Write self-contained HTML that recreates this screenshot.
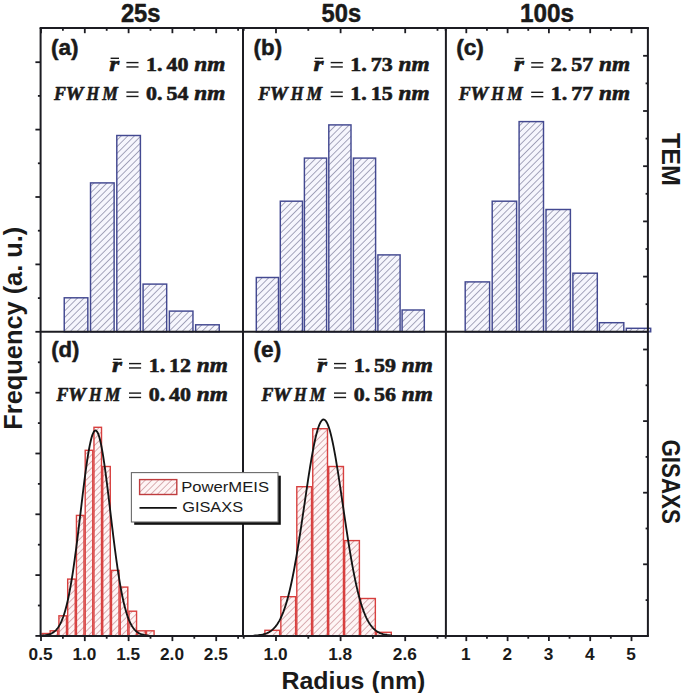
<!DOCTYPE html>
<html><head><meta charset="utf-8"><style>
html,body{margin:0;padding:0;background:#fff;}
svg{display:block;}
</style></head><body>
<svg width="685" height="693" viewBox="0 0 685 693">
<rect width="685" height="693" fill="#fff"/>
<defs>
<pattern id="hb" patternUnits="userSpaceOnUse" width="4.65" height="4.65" patternTransform="rotate(45)">
<rect width="4.65" height="4.65" fill="#f6f6fd"/>
<line x1="0" y1="0" x2="0" y2="4.65" stroke="#646488" stroke-width="1.1"/>
</pattern>
<pattern id="hr" patternUnits="userSpaceOnUse" width="4.65" height="4.65" patternTransform="rotate(45)">
<rect width="4.65" height="4.65" fill="#fef5f5"/>
<line x1="0" y1="0" x2="0" y2="4.65" stroke="#c07880" stroke-width="1.15"/>
</pattern>
</defs>
<rect x="64.24" y="297.80" width="23.60" height="34.00" fill="url(#hb)" stroke="#434991" stroke-width="1.45"/>
<rect x="90.52" y="182.90" width="23.60" height="148.90" fill="url(#hb)" stroke="#434991" stroke-width="1.45"/>
<rect x="116.80" y="135.50" width="23.60" height="196.30" fill="url(#hb)" stroke="#434991" stroke-width="1.45"/>
<rect x="143.08" y="284.10" width="23.60" height="47.70" fill="url(#hb)" stroke="#434991" stroke-width="1.45"/>
<rect x="169.36" y="311.10" width="23.60" height="20.70" fill="url(#hb)" stroke="#434991" stroke-width="1.45"/>
<rect x="195.64" y="324.80" width="23.60" height="7.00" fill="url(#hb)" stroke="#434991" stroke-width="1.45"/>
<rect x="256.30" y="277.50" width="22.20" height="54.30" fill="url(#hb)" stroke="#434991" stroke-width="1.45"/>
<rect x="280.30" y="201.20" width="22.20" height="130.60" fill="url(#hb)" stroke="#434991" stroke-width="1.45"/>
<rect x="304.40" y="158.10" width="22.20" height="173.70" fill="url(#hb)" stroke="#434991" stroke-width="1.45"/>
<rect x="328.80" y="124.90" width="22.20" height="206.90" fill="url(#hb)" stroke="#434991" stroke-width="1.45"/>
<rect x="353.40" y="158.10" width="22.20" height="173.70" fill="url(#hb)" stroke="#434991" stroke-width="1.45"/>
<rect x="377.90" y="254.90" width="22.20" height="76.90" fill="url(#hb)" stroke="#434991" stroke-width="1.45"/>
<rect x="402.10" y="310.00" width="22.20" height="21.80" fill="url(#hb)" stroke="#434991" stroke-width="1.45"/>
<rect x="465.20" y="281.90" width="24.40" height="49.90" fill="url(#hb)" stroke="#434991" stroke-width="1.45"/>
<rect x="492.20" y="201.20" width="24.40" height="130.60" fill="url(#hb)" stroke="#434991" stroke-width="1.45"/>
<rect x="519.10" y="121.60" width="24.40" height="210.20" fill="url(#hb)" stroke="#434991" stroke-width="1.45"/>
<rect x="546.00" y="209.50" width="24.40" height="122.30" fill="url(#hb)" stroke="#434991" stroke-width="1.45"/>
<rect x="572.90" y="273.20" width="24.40" height="58.60" fill="url(#hb)" stroke="#434991" stroke-width="1.45"/>
<rect x="599.40" y="322.70" width="24.40" height="9.10" fill="url(#hb)" stroke="#434991" stroke-width="1.45"/>
<rect x="626.30" y="328.30" width="24.40" height="3.50" fill="url(#hb)" stroke="#434991" stroke-width="1.45"/>
<rect x="42.00" y="633.50" width="6.96" height="2.40" fill="url(#hr)" stroke="#d8403f" stroke-width="1.4"/>
<rect x="50.16" y="630.80" width="7.56" height="5.10" fill="url(#hr)" stroke="#d8403f" stroke-width="1.4"/>
<rect x="58.92" y="615.80" width="7.56" height="20.10" fill="url(#hr)" stroke="#d8403f" stroke-width="1.4"/>
<rect x="67.68" y="579.10" width="7.56" height="56.80" fill="url(#hr)" stroke="#d8403f" stroke-width="1.4"/>
<rect x="76.44" y="515.40" width="7.56" height="120.50" fill="url(#hr)" stroke="#d8403f" stroke-width="1.4"/>
<rect x="85.20" y="450.30" width="7.56" height="185.60" fill="url(#hr)" stroke="#d8403f" stroke-width="1.4"/>
<rect x="93.96" y="427.30" width="7.56" height="208.60" fill="url(#hr)" stroke="#d8403f" stroke-width="1.4"/>
<rect x="102.72" y="466.50" width="7.56" height="169.40" fill="url(#hr)" stroke="#d8403f" stroke-width="1.4"/>
<rect x="111.48" y="570.40" width="7.56" height="65.50" fill="url(#hr)" stroke="#d8403f" stroke-width="1.4"/>
<rect x="120.24" y="587.10" width="7.56" height="48.80" fill="url(#hr)" stroke="#d8403f" stroke-width="1.4"/>
<rect x="129.00" y="611.20" width="7.56" height="24.70" fill="url(#hr)" stroke="#d8403f" stroke-width="1.4"/>
<rect x="137.76" y="630.80" width="7.56" height="5.10" fill="url(#hr)" stroke="#d8403f" stroke-width="1.4"/>
<rect x="146.52" y="630.80" width="7.56" height="5.10" fill="url(#hr)" stroke="#d8403f" stroke-width="1.4"/>
<rect x="264.90" y="630.30" width="14.75" height="5.60" fill="url(#hr)" stroke="#d8403f" stroke-width="1.4"/>
<rect x="280.85" y="596.70" width="14.75" height="39.20" fill="url(#hr)" stroke="#d8403f" stroke-width="1.4"/>
<rect x="296.80" y="486.70" width="14.75" height="149.20" fill="url(#hr)" stroke="#d8403f" stroke-width="1.4"/>
<rect x="312.75" y="428.70" width="14.75" height="207.20" fill="url(#hr)" stroke="#d8403f" stroke-width="1.4"/>
<rect x="328.70" y="466.50" width="14.75" height="169.40" fill="url(#hr)" stroke="#d8403f" stroke-width="1.4"/>
<rect x="344.65" y="540.60" width="14.75" height="95.30" fill="url(#hr)" stroke="#d8403f" stroke-width="1.4"/>
<rect x="360.60" y="598.50" width="14.75" height="37.40" fill="url(#hr)" stroke="#d8403f" stroke-width="1.4"/>
<rect x="376.55" y="632.30" width="14.75" height="3.60" fill="url(#hr)" stroke="#d8403f" stroke-width="1.4"/>
<polyline points="41.50,635.64 42.03,635.60 42.57,635.56 43.10,635.51 43.64,635.46 44.17,635.40 44.71,635.33 45.24,635.26 45.78,635.17 46.31,635.08 46.85,634.97 47.38,634.86 47.92,634.73 48.45,634.59 48.99,634.43 49.52,634.25 50.06,634.06 50.59,633.84 51.13,633.60 51.66,633.34 52.20,633.06 52.73,632.74 53.27,632.40 53.80,632.02 54.34,631.60 54.88,631.15 55.41,630.66 55.95,630.13 56.48,629.54 57.02,628.91 57.55,628.23 58.09,627.49 58.62,626.69 59.16,625.83 59.69,624.90 60.23,623.90 60.76,622.83 61.30,621.69 61.83,620.46 62.36,619.14 62.90,617.74 63.44,616.25 63.97,614.67 64.50,612.98 65.04,611.19 65.58,609.30 66.11,607.30 66.64,605.20 67.18,602.98 67.72,600.64 68.25,598.19 68.78,595.62 69.32,592.93 69.86,590.13 70.39,587.20 70.92,584.15 71.46,580.99 72.00,577.70 72.53,574.31 73.06,570.79 73.60,567.17 74.13,563.44 74.67,559.61 75.20,555.68 75.74,551.66 76.28,547.55 76.81,543.37 77.34,539.11 77.88,534.78 78.41,530.41 78.95,525.98 79.48,521.52 80.02,517.04 80.56,512.54 81.09,508.04 81.62,503.54 82.16,499.07 82.69,494.63 83.23,490.24 83.77,485.90 84.30,481.64 84.84,477.47 85.37,473.39 85.91,469.43 86.44,465.60 86.97,461.90 87.51,458.35 88.05,454.97 88.58,451.77 89.12,448.75 89.65,445.93 90.19,443.33 90.72,440.94 91.25,438.78 91.79,436.85 92.33,435.17 92.86,433.74 93.40,432.57 93.93,431.65 94.47,431.00 95.00,430.62 95.53,430.50 96.07,430.65 96.60,431.07 97.14,431.76 97.67,432.71 98.21,433.91 98.75,435.38 99.28,437.09 99.81,439.05 100.35,441.24 100.88,443.66 101.42,446.29 101.95,449.14 102.49,452.18 103.03,455.41 103.56,458.81 104.09,462.37 104.63,466.09 105.16,469.94 105.70,473.92 106.23,478.01 106.77,482.20 107.31,486.47 107.84,490.81 108.38,495.21 108.91,499.65 109.44,504.13 109.98,508.63 110.52,513.13 111.05,517.63 111.58,522.11 112.12,526.56 112.66,530.98 113.19,535.35 113.72,539.67 114.26,543.92 114.80,548.09 115.33,552.19 115.86,556.20 116.40,560.12 116.94,563.94 117.47,567.65 118.00,571.26 118.54,574.76 119.08,578.14 119.61,581.41 120.14,584.56 120.68,587.59 121.22,590.50 121.75,593.29 122.28,595.96 122.82,598.52 123.36,600.95 123.89,603.27 124.42,605.48 124.96,607.57 125.50,609.56 126.03,611.43 126.56,613.21 127.10,614.88 127.64,616.45 128.17,617.93 128.70,619.32 129.24,620.62 129.78,621.84 130.31,622.98 130.84,624.04 131.38,625.03 131.92,625.95 132.45,626.80 132.99,627.59 133.52,628.32 134.06,629.00 134.59,629.62 135.12,630.20 135.66,630.73 136.19,631.21 136.73,631.66 137.26,632.07 137.80,632.44 138.33,632.78 138.87,633.10 139.41,633.38 139.94,633.64 140.47,633.87 141.01,634.08 141.55,634.28 142.08,634.45 142.62,634.61 143.15,634.75 143.69,634.87 144.22,634.99 144.75,635.09 145.29,635.18 145.82,635.27 146.36,635.34 146.89,635.41 147.43,635.46 147.97,635.52 148.50,635.56" fill="none" stroke="#141414" stroke-width="1.85"/>
<polyline points="253.50,635.62 254.19,635.59 254.88,635.54 255.58,635.49 256.27,635.44 256.96,635.38 257.65,635.31 258.35,635.23 259.04,635.14 259.73,635.04 260.43,634.94 261.12,634.81 261.81,634.68 262.50,634.53 263.19,634.37 263.89,634.18 264.58,633.98 265.27,633.76 265.96,633.51 266.66,633.24 267.35,632.94 268.04,632.61 268.74,632.25 269.43,631.86 270.12,631.43 270.81,630.96 271.50,630.45 272.20,629.89 272.89,629.29 273.58,628.63 274.27,627.92 274.97,627.15 275.66,626.32 276.35,625.42 277.05,624.46 277.74,623.42 278.43,622.30 279.12,621.11 279.81,619.83 280.51,618.47 281.20,617.01 281.89,615.45 282.58,613.80 283.28,612.05 283.97,610.19 284.66,608.22 285.36,606.14 286.05,603.94 286.74,601.63 287.43,599.19 288.12,596.64 288.82,593.96 289.51,591.16 290.20,588.23 290.89,585.18 291.59,582.00 292.28,578.70 292.97,575.27 293.67,571.72 294.36,568.05 295.05,564.27 295.74,560.37 296.44,556.36 297.13,552.25 297.82,548.04 298.51,543.74 299.20,539.36 299.90,534.90 300.59,530.37 301.28,525.78 301.98,521.14 302.67,516.46 303.36,511.75 304.05,507.02 304.75,502.29 305.44,497.56 306.13,492.85 306.82,488.18 307.51,483.55 308.21,478.97 308.90,474.48 309.59,470.06 310.28,465.75 310.98,461.56 311.67,457.49 312.36,453.56 313.06,449.80 313.75,446.20 314.44,442.78 315.13,439.55 315.82,436.54 316.52,433.73 317.21,431.16 317.90,428.82 318.60,426.73 319.29,424.89 319.98,423.31 320.67,422.00 321.37,420.96 322.06,420.20 322.75,419.71 323.44,419.51 324.13,419.58 324.83,419.94 325.52,420.58 326.21,421.49 326.90,422.68 327.60,424.14 328.29,425.86 328.98,427.84 329.68,430.07 330.37,432.53 331.06,435.23 331.75,438.15 332.44,441.29 333.14,444.62 333.83,448.14 334.52,451.83 335.22,455.69 335.91,459.69 336.60,463.83 337.29,468.09 337.99,472.46 338.68,476.92 339.37,481.46 340.06,486.06 340.75,490.72 341.45,495.42 342.14,500.14 342.83,504.87 343.52,509.60 344.22,514.32 344.91,519.01 345.60,523.67 346.30,528.29 346.99,532.85 347.68,537.34 348.37,541.76 349.06,546.10 349.76,550.35 350.45,554.50 351.14,558.56 351.83,562.51 352.53,566.34 353.22,570.06 353.91,573.67 354.61,577.15 355.30,580.51 355.99,583.75 356.68,586.86 357.38,589.84 358.07,592.70 358.76,595.44 359.45,598.05 360.14,600.54 360.84,602.90 361.53,605.15 362.22,607.29 362.92,609.31 363.61,611.22 364.30,613.02 364.99,614.72 365.69,616.31 366.38,617.81 367.07,619.22 367.76,620.54 368.45,621.77 369.15,622.92 369.84,623.99 370.53,624.99 371.23,625.92 371.92,626.78 372.61,627.58 373.30,628.31 374.00,628.99 374.69,629.62 375.38,630.20 376.07,630.73 376.76,631.22 377.46,631.67 378.15,632.08 378.84,632.45 379.53,632.79 380.23,633.11 380.92,633.39 381.61,633.65 382.31,633.88 383.00,634.09 383.69,634.28 384.38,634.46 385.07,634.61 385.77,634.76 386.46,634.88 387.15,635.00 387.85,635.10 388.54,635.19 389.23,635.27 389.92,635.35 390.62,635.41 391.31,635.47 392.00,635.52" fill="none" stroke="#141414" stroke-width="1.85"/>
<line x1="40.60" y1="28.00" x2="40.60" y2="635.90" stroke="#1c1c22" stroke-width="2.0"/>
<line x1="647.90" y1="28.00" x2="647.90" y2="635.90" stroke="#1c1c22" stroke-width="2.0"/>
<line x1="243.00" y1="28.00" x2="243.00" y2="635.90" stroke="#1c1c22" stroke-width="2.0"/>
<line x1="445.90" y1="28.00" x2="445.90" y2="635.90" stroke="#1c1c22" stroke-width="2.0"/>
<line x1="39.60" y1="28.00" x2="648.90" y2="28.00" stroke="#1c1c22" stroke-width="2.0"/>
<line x1="40.60" y1="331.80" x2="647.90" y2="331.80" stroke="#1c1c22" stroke-width="2.0"/>
<line x1="39.60" y1="635.90" x2="648.90" y2="635.90" stroke="#1c1c22" stroke-width="2.0"/>
<line x1="35.40" y1="331.80" x2="40.60" y2="331.80" stroke="#1c1c22" stroke-width="1.8"/>
<line x1="37.90" y1="298.10" x2="40.60" y2="298.10" stroke="#1c1c22" stroke-width="1.8"/>
<line x1="35.40" y1="264.40" x2="40.60" y2="264.40" stroke="#1c1c22" stroke-width="1.8"/>
<line x1="37.90" y1="230.70" x2="40.60" y2="230.70" stroke="#1c1c22" stroke-width="1.8"/>
<line x1="35.40" y1="197.00" x2="40.60" y2="197.00" stroke="#1c1c22" stroke-width="1.8"/>
<line x1="37.90" y1="163.30" x2="40.60" y2="163.30" stroke="#1c1c22" stroke-width="1.8"/>
<line x1="35.40" y1="129.60" x2="40.60" y2="129.60" stroke="#1c1c22" stroke-width="1.8"/>
<line x1="37.90" y1="95.90" x2="40.60" y2="95.90" stroke="#1c1c22" stroke-width="1.8"/>
<line x1="35.40" y1="62.20" x2="40.60" y2="62.20" stroke="#1c1c22" stroke-width="1.8"/>
<line x1="35.40" y1="635.90" x2="40.60" y2="635.90" stroke="#1c1c22" stroke-width="1.8"/>
<line x1="37.90" y1="605.50" x2="40.60" y2="605.50" stroke="#1c1c22" stroke-width="1.8"/>
<line x1="35.40" y1="575.10" x2="40.60" y2="575.10" stroke="#1c1c22" stroke-width="1.8"/>
<line x1="37.90" y1="544.70" x2="40.60" y2="544.70" stroke="#1c1c22" stroke-width="1.8"/>
<line x1="35.40" y1="514.30" x2="40.60" y2="514.30" stroke="#1c1c22" stroke-width="1.8"/>
<line x1="37.90" y1="483.90" x2="40.60" y2="483.90" stroke="#1c1c22" stroke-width="1.8"/>
<line x1="35.40" y1="453.50" x2="40.60" y2="453.50" stroke="#1c1c22" stroke-width="1.8"/>
<line x1="37.90" y1="423.10" x2="40.60" y2="423.10" stroke="#1c1c22" stroke-width="1.8"/>
<line x1="35.40" y1="392.70" x2="40.60" y2="392.70" stroke="#1c1c22" stroke-width="1.8"/>
<line x1="37.90" y1="362.30" x2="40.60" y2="362.30" stroke="#1c1c22" stroke-width="1.8"/>
<line x1="645.60" y1="304.20" x2="647.90" y2="304.20" stroke="#1c1c22" stroke-width="1.8"/>
<line x1="643.10" y1="276.60" x2="647.90" y2="276.60" stroke="#1c1c22" stroke-width="1.8"/>
<line x1="645.60" y1="249.00" x2="647.90" y2="249.00" stroke="#1c1c22" stroke-width="1.8"/>
<line x1="643.10" y1="221.40" x2="647.90" y2="221.40" stroke="#1c1c22" stroke-width="1.8"/>
<line x1="645.60" y1="193.80" x2="647.90" y2="193.80" stroke="#1c1c22" stroke-width="1.8"/>
<line x1="643.10" y1="166.20" x2="647.90" y2="166.20" stroke="#1c1c22" stroke-width="1.8"/>
<line x1="645.60" y1="138.60" x2="647.90" y2="138.60" stroke="#1c1c22" stroke-width="1.8"/>
<line x1="643.10" y1="111.00" x2="647.90" y2="111.00" stroke="#1c1c22" stroke-width="1.8"/>
<line x1="645.60" y1="83.40" x2="647.90" y2="83.40" stroke="#1c1c22" stroke-width="1.8"/>
<line x1="643.10" y1="55.80" x2="647.90" y2="55.80" stroke="#1c1c22" stroke-width="1.8"/>
<line x1="645.60" y1="600.10" x2="647.90" y2="600.10" stroke="#1c1c22" stroke-width="1.8"/>
<line x1="643.10" y1="564.30" x2="647.90" y2="564.30" stroke="#1c1c22" stroke-width="1.8"/>
<line x1="645.60" y1="528.50" x2="647.90" y2="528.50" stroke="#1c1c22" stroke-width="1.8"/>
<line x1="643.10" y1="492.70" x2="647.90" y2="492.70" stroke="#1c1c22" stroke-width="1.8"/>
<line x1="645.60" y1="456.90" x2="647.90" y2="456.90" stroke="#1c1c22" stroke-width="1.8"/>
<line x1="643.10" y1="421.10" x2="647.90" y2="421.10" stroke="#1c1c22" stroke-width="1.8"/>
<line x1="645.60" y1="385.30" x2="647.90" y2="385.30" stroke="#1c1c22" stroke-width="1.8"/>
<line x1="643.10" y1="349.50" x2="647.90" y2="349.50" stroke="#1c1c22" stroke-width="1.8"/>
<line x1="41.00" y1="28.00" x2="41.00" y2="33.20" stroke="#1c1c22" stroke-width="1.8"/>
<line x1="41.00" y1="635.90" x2="41.00" y2="641.10" stroke="#1c1c22" stroke-width="1.8"/>
<line x1="84.80" y1="28.00" x2="84.80" y2="33.20" stroke="#1c1c22" stroke-width="1.8"/>
<line x1="84.80" y1="635.90" x2="84.80" y2="641.10" stroke="#1c1c22" stroke-width="1.8"/>
<line x1="128.60" y1="28.00" x2="128.60" y2="33.20" stroke="#1c1c22" stroke-width="1.8"/>
<line x1="128.60" y1="635.90" x2="128.60" y2="641.10" stroke="#1c1c22" stroke-width="1.8"/>
<line x1="172.40" y1="28.00" x2="172.40" y2="33.20" stroke="#1c1c22" stroke-width="1.8"/>
<line x1="172.40" y1="635.90" x2="172.40" y2="641.10" stroke="#1c1c22" stroke-width="1.8"/>
<line x1="216.20" y1="28.00" x2="216.20" y2="33.20" stroke="#1c1c22" stroke-width="1.8"/>
<line x1="216.20" y1="635.90" x2="216.20" y2="641.10" stroke="#1c1c22" stroke-width="1.8"/>
<line x1="62.90" y1="28.00" x2="62.90" y2="30.80" stroke="#1c1c22" stroke-width="1.8"/>
<line x1="62.90" y1="635.90" x2="62.90" y2="638.70" stroke="#1c1c22" stroke-width="1.8"/>
<line x1="106.70" y1="28.00" x2="106.70" y2="30.80" stroke="#1c1c22" stroke-width="1.8"/>
<line x1="106.70" y1="635.90" x2="106.70" y2="638.70" stroke="#1c1c22" stroke-width="1.8"/>
<line x1="150.50" y1="28.00" x2="150.50" y2="30.80" stroke="#1c1c22" stroke-width="1.8"/>
<line x1="150.50" y1="635.90" x2="150.50" y2="638.70" stroke="#1c1c22" stroke-width="1.8"/>
<line x1="194.30" y1="28.00" x2="194.30" y2="30.80" stroke="#1c1c22" stroke-width="1.8"/>
<line x1="194.30" y1="635.90" x2="194.30" y2="638.70" stroke="#1c1c22" stroke-width="1.8"/>
<line x1="238.10" y1="28.00" x2="238.10" y2="30.80" stroke="#1c1c22" stroke-width="1.8"/>
<line x1="238.10" y1="635.90" x2="238.10" y2="638.70" stroke="#1c1c22" stroke-width="1.8"/>
<line x1="276.00" y1="28.00" x2="276.00" y2="33.20" stroke="#1c1c22" stroke-width="1.8"/>
<line x1="276.00" y1="635.90" x2="276.00" y2="641.10" stroke="#1c1c22" stroke-width="1.8"/>
<line x1="340.60" y1="28.00" x2="340.60" y2="33.20" stroke="#1c1c22" stroke-width="1.8"/>
<line x1="340.60" y1="635.90" x2="340.60" y2="641.10" stroke="#1c1c22" stroke-width="1.8"/>
<line x1="405.20" y1="28.00" x2="405.20" y2="33.20" stroke="#1c1c22" stroke-width="1.8"/>
<line x1="405.20" y1="635.90" x2="405.20" y2="641.10" stroke="#1c1c22" stroke-width="1.8"/>
<line x1="243.70" y1="28.00" x2="243.70" y2="30.80" stroke="#1c1c22" stroke-width="1.8"/>
<line x1="243.70" y1="635.90" x2="243.70" y2="638.70" stroke="#1c1c22" stroke-width="1.8"/>
<line x1="308.30" y1="28.00" x2="308.30" y2="30.80" stroke="#1c1c22" stroke-width="1.8"/>
<line x1="308.30" y1="635.90" x2="308.30" y2="638.70" stroke="#1c1c22" stroke-width="1.8"/>
<line x1="372.90" y1="28.00" x2="372.90" y2="30.80" stroke="#1c1c22" stroke-width="1.8"/>
<line x1="372.90" y1="635.90" x2="372.90" y2="638.70" stroke="#1c1c22" stroke-width="1.8"/>
<line x1="437.50" y1="28.00" x2="437.50" y2="30.80" stroke="#1c1c22" stroke-width="1.8"/>
<line x1="437.50" y1="635.90" x2="437.50" y2="638.70" stroke="#1c1c22" stroke-width="1.8"/>
<line x1="466.30" y1="28.00" x2="466.30" y2="33.20" stroke="#1c1c22" stroke-width="1.8"/>
<line x1="466.30" y1="635.90" x2="466.30" y2="641.10" stroke="#1c1c22" stroke-width="1.8"/>
<line x1="507.60" y1="28.00" x2="507.60" y2="33.20" stroke="#1c1c22" stroke-width="1.8"/>
<line x1="507.60" y1="635.90" x2="507.60" y2="641.10" stroke="#1c1c22" stroke-width="1.8"/>
<line x1="548.90" y1="28.00" x2="548.90" y2="33.20" stroke="#1c1c22" stroke-width="1.8"/>
<line x1="548.90" y1="635.90" x2="548.90" y2="641.10" stroke="#1c1c22" stroke-width="1.8"/>
<line x1="590.20" y1="28.00" x2="590.20" y2="33.20" stroke="#1c1c22" stroke-width="1.8"/>
<line x1="590.20" y1="635.90" x2="590.20" y2="641.10" stroke="#1c1c22" stroke-width="1.8"/>
<line x1="631.50" y1="28.00" x2="631.50" y2="33.20" stroke="#1c1c22" stroke-width="1.8"/>
<line x1="631.50" y1="635.90" x2="631.50" y2="641.10" stroke="#1c1c22" stroke-width="1.8"/>
<line x1="445.65" y1="28.00" x2="445.65" y2="30.80" stroke="#1c1c22" stroke-width="1.8"/>
<line x1="445.65" y1="635.90" x2="445.65" y2="638.70" stroke="#1c1c22" stroke-width="1.8"/>
<line x1="486.95" y1="28.00" x2="486.95" y2="30.80" stroke="#1c1c22" stroke-width="1.8"/>
<line x1="486.95" y1="635.90" x2="486.95" y2="638.70" stroke="#1c1c22" stroke-width="1.8"/>
<line x1="528.25" y1="28.00" x2="528.25" y2="30.80" stroke="#1c1c22" stroke-width="1.8"/>
<line x1="528.25" y1="635.90" x2="528.25" y2="638.70" stroke="#1c1c22" stroke-width="1.8"/>
<line x1="569.55" y1="28.00" x2="569.55" y2="30.80" stroke="#1c1c22" stroke-width="1.8"/>
<line x1="569.55" y1="635.90" x2="569.55" y2="638.70" stroke="#1c1c22" stroke-width="1.8"/>
<line x1="610.85" y1="28.00" x2="610.85" y2="30.80" stroke="#1c1c22" stroke-width="1.8"/>
<line x1="610.85" y1="635.90" x2="610.85" y2="638.70" stroke="#1c1c22" stroke-width="1.8"/>
<rect x="134.2" y="475.7" width="146.6" height="49.1" fill="#111"/>
<rect x="131.4" y="472.6" width="146.6" height="49.4" fill="#fff" stroke="#6a6a6a" stroke-width="1.1"/>
<rect x="139.6" y="479.6" width="37.2" height="14.9" fill="url(#hr)" stroke="#bf3c3e" stroke-width="1.4"/>
<line x1="139.50" y1="507.90" x2="176.80" y2="507.90" stroke="#111" stroke-width="1.6"/>
<text transform="translate(181.24,492.20) scale(1.0798,1)" font-family="Liberation Sans" font-size="15.407" font-weight="normal" font-style="normal" fill="#1a1a1a" style="font-kerning:none">PowerMEIS</text>
<text transform="translate(182.18,512.20) scale(1.1045,1)" font-family="Liberation Sans" font-size="14.826" font-weight="normal" font-style="normal" fill="#1a1a1a" style="font-kerning:none">GISAXS</text>
<text transform="translate(120.88,21.90) scale(0.9155,1)" font-family="Liberation Sans" font-size="25.922" font-weight="bold" font-style="normal" fill="#1a1a1a" style="font-kerning:none" stroke="#1a1a1a" stroke-width="0.5" stroke-linejoin="round">25s</text>
<text transform="translate(321.57,21.90) scale(0.8999,1)" font-family="Liberation Sans" font-size="26.309" font-weight="bold" font-style="normal" fill="#1a1a1a" style="font-kerning:none" stroke="#1a1a1a" stroke-width="0.5" stroke-linejoin="round">50s</text>
<text transform="translate(520.07,21.70) scale(0.9334,1)" font-family="Liberation Sans" font-size="26.018" font-weight="bold" font-style="normal" fill="#1a1a1a" style="font-kerning:none" stroke="#1a1a1a" stroke-width="0.5" stroke-linejoin="round">100s</text>
<text transform="translate(50.97,54.60) scale(0.9997,1)" font-family="Liberation Sans" font-size="22.633" font-weight="bold" font-style="normal" fill="#1a1a1a" style="font-kerning:none" stroke="#1a1a1a" stroke-width="0.5" stroke-linejoin="round">(a)</text>
<text transform="translate(253.59,54.60) scale(0.9871,1)" font-family="Liberation Sans" font-size="22.633" font-weight="bold" font-style="normal" fill="#1a1a1a" style="font-kerning:none" stroke="#1a1a1a" stroke-width="0.5" stroke-linejoin="round">(b)</text>
<text transform="translate(456.17,54.60) scale(1.0037,1)" font-family="Liberation Sans" font-size="22.633" font-weight="bold" font-style="normal" fill="#1a1a1a" style="font-kerning:none" stroke="#1a1a1a" stroke-width="0.5" stroke-linejoin="round">(c)</text>
<text transform="translate(51.20,356.60) scale(0.9796,1)" font-family="Liberation Sans" font-size="22.633" font-weight="bold" font-style="normal" fill="#1a1a1a" style="font-kerning:none" stroke="#1a1a1a" stroke-width="0.5" stroke-linejoin="round">(d)</text>
<text transform="translate(253.57,356.60) scale(0.9997,1)" font-family="Liberation Sans" font-size="22.633" font-weight="bold" font-style="normal" fill="#1a1a1a" style="font-kerning:none" stroke="#1a1a1a" stroke-width="0.5" stroke-linejoin="round">(e)</text>
<text transform="translate(109.28,70.60) scale(1.2277,1)" font-family="Liberation Serif" font-size="20.798" font-weight="bold" font-style="italic" fill="#1a1a1a" style="font-kerning:none" stroke="#1a1a1a" stroke-width="0.6" stroke-linejoin="round">r</text>
<rect x="110.60" y="57.60" width="8.4" height="1.4" fill="#1a1a1a"/>
<rect x="126.40" y="61.90" width="12.1" height="1.4" fill="#1a1a1a"/>
<rect x="126.40" y="66.25" width="12.1" height="1.4" fill="#1a1a1a"/>
<rect x="126.40" y="91.40" width="12.1" height="1.4" fill="#1a1a1a"/>
<rect x="126.40" y="95.75" width="12.1" height="1.4" fill="#1a1a1a"/>
<text transform="translate(146.06,70.60) scale(1.1133,1)" font-family="Liberation Serif" font-size="19.751" font-weight="bold" fill="#1a1a1a" stroke="#1a1a1a" stroke-width="0.6" style="font-kerning:none">1.</text>
<text transform="translate(166.52,70.60) scale(1.1133,1)" font-family="Liberation Serif" font-size="19.751" font-weight="bold" fill="#1a1a1a" stroke="#1a1a1a" stroke-width="0.6" style="font-kerning:none">40</text>
<text transform="translate(146.06,100.10) scale(1.1133,1)" font-family="Liberation Serif" font-size="19.751" font-weight="bold" fill="#1a1a1a" stroke="#1a1a1a" stroke-width="0.6" style="font-kerning:none">0.</text>
<text transform="translate(166.52,100.10) scale(1.1133,1)" font-family="Liberation Serif" font-size="19.751" font-weight="bold" fill="#1a1a1a" stroke="#1a1a1a" stroke-width="0.6" style="font-kerning:none">54</text>
<text transform="translate(194.22,70.60) scale(1.1094,1)" font-family="Liberation Serif" font-size="21.011" font-weight="bold" font-style="italic" fill="#1a1a1a" style="font-kerning:none" stroke="#1a1a1a" stroke-width="0.6" stroke-linejoin="round">nm</text>
<text transform="translate(54.02,100.00) scale(0.9047,1)" font-family="Liberation Serif" font-size="19.854" font-weight="bold" font-style="italic" fill="#1a1a1a" style="font-kerning:none" stroke="#1a1a1a" stroke-width="0.6" stroke-linejoin="round">F</text>
<text transform="translate(65.51,100.00) scale(1.0201,1)" font-family="Liberation Serif" font-size="19.854" font-weight="bold" font-style="italic" fill="#1a1a1a" style="font-kerning:none" stroke="#1a1a1a" stroke-width="0.6" stroke-linejoin="round">W</text>
<text transform="translate(86.52,100.00) scale(0.8203,1)" font-family="Liberation Serif" font-size="19.854" font-weight="bold" font-style="italic" fill="#1a1a1a" style="font-kerning:none" stroke="#1a1a1a" stroke-width="0.6" stroke-linejoin="round">H</text>
<text transform="translate(102.13,100.00) scale(0.8880,1)" font-family="Liberation Serif" font-size="19.854" font-weight="bold" font-style="italic" fill="#1a1a1a" style="font-kerning:none" stroke="#1a1a1a" stroke-width="0.6" stroke-linejoin="round">M</text>
<text transform="translate(194.22,100.10) scale(1.1684,1)" font-family="Liberation Serif" font-size="19.949" font-weight="bold" font-style="italic" fill="#1a1a1a" style="font-kerning:none" stroke="#1a1a1a" stroke-width="0.6" stroke-linejoin="round">nm</text>
<text transform="translate(313.58,70.60) scale(1.2277,1)" font-family="Liberation Serif" font-size="20.798" font-weight="bold" font-style="italic" fill="#1a1a1a" style="font-kerning:none" stroke="#1a1a1a" stroke-width="0.6" stroke-linejoin="round">r</text>
<rect x="314.90" y="57.60" width="8.4" height="1.4" fill="#1a1a1a"/>
<rect x="330.70" y="61.90" width="12.1" height="1.4" fill="#1a1a1a"/>
<rect x="330.70" y="66.25" width="12.1" height="1.4" fill="#1a1a1a"/>
<rect x="330.70" y="91.40" width="12.1" height="1.4" fill="#1a1a1a"/>
<rect x="330.70" y="95.75" width="12.1" height="1.4" fill="#1a1a1a"/>
<text transform="translate(350.36,70.60) scale(1.1133,1)" font-family="Liberation Serif" font-size="19.751" font-weight="bold" fill="#1a1a1a" stroke="#1a1a1a" stroke-width="0.6" style="font-kerning:none">1.</text>
<text transform="translate(370.82,70.60) scale(1.1133,1)" font-family="Liberation Serif" font-size="19.751" font-weight="bold" fill="#1a1a1a" stroke="#1a1a1a" stroke-width="0.6" style="font-kerning:none">73</text>
<text transform="translate(350.36,100.10) scale(1.1133,1)" font-family="Liberation Serif" font-size="19.751" font-weight="bold" fill="#1a1a1a" stroke="#1a1a1a" stroke-width="0.6" style="font-kerning:none">1.</text>
<text transform="translate(370.82,100.10) scale(1.1133,1)" font-family="Liberation Serif" font-size="19.751" font-weight="bold" fill="#1a1a1a" stroke="#1a1a1a" stroke-width="0.6" style="font-kerning:none">15</text>
<text transform="translate(398.52,70.60) scale(1.1094,1)" font-family="Liberation Serif" font-size="21.011" font-weight="bold" font-style="italic" fill="#1a1a1a" style="font-kerning:none" stroke="#1a1a1a" stroke-width="0.6" stroke-linejoin="round">nm</text>
<text transform="translate(258.32,100.00) scale(0.9047,1)" font-family="Liberation Serif" font-size="19.854" font-weight="bold" font-style="italic" fill="#1a1a1a" style="font-kerning:none" stroke="#1a1a1a" stroke-width="0.6" stroke-linejoin="round">F</text>
<text transform="translate(269.81,100.00) scale(1.0201,1)" font-family="Liberation Serif" font-size="19.854" font-weight="bold" font-style="italic" fill="#1a1a1a" style="font-kerning:none" stroke="#1a1a1a" stroke-width="0.6" stroke-linejoin="round">W</text>
<text transform="translate(290.82,100.00) scale(0.8203,1)" font-family="Liberation Serif" font-size="19.854" font-weight="bold" font-style="italic" fill="#1a1a1a" style="font-kerning:none" stroke="#1a1a1a" stroke-width="0.6" stroke-linejoin="round">H</text>
<text transform="translate(306.43,100.00) scale(0.8880,1)" font-family="Liberation Serif" font-size="19.854" font-weight="bold" font-style="italic" fill="#1a1a1a" style="font-kerning:none" stroke="#1a1a1a" stroke-width="0.6" stroke-linejoin="round">M</text>
<text transform="translate(398.52,100.10) scale(1.1684,1)" font-family="Liberation Serif" font-size="19.949" font-weight="bold" font-style="italic" fill="#1a1a1a" style="font-kerning:none" stroke="#1a1a1a" stroke-width="0.6" stroke-linejoin="round">nm</text>
<text transform="translate(514.08,70.80) scale(1.2277,1)" font-family="Liberation Serif" font-size="20.798" font-weight="bold" font-style="italic" fill="#1a1a1a" style="font-kerning:none" stroke="#1a1a1a" stroke-width="0.6" stroke-linejoin="round">r</text>
<rect x="515.40" y="57.80" width="8.4" height="1.4" fill="#1a1a1a"/>
<rect x="531.20" y="62.10" width="12.1" height="1.4" fill="#1a1a1a"/>
<rect x="531.20" y="66.45" width="12.1" height="1.4" fill="#1a1a1a"/>
<rect x="531.20" y="91.60" width="12.1" height="1.4" fill="#1a1a1a"/>
<rect x="531.20" y="95.95" width="12.1" height="1.4" fill="#1a1a1a"/>
<text transform="translate(550.86,70.80) scale(1.1133,1)" font-family="Liberation Serif" font-size="19.751" font-weight="bold" fill="#1a1a1a" stroke="#1a1a1a" stroke-width="0.6" style="font-kerning:none">2.</text>
<text transform="translate(571.32,70.80) scale(1.1133,1)" font-family="Liberation Serif" font-size="19.751" font-weight="bold" fill="#1a1a1a" stroke="#1a1a1a" stroke-width="0.6" style="font-kerning:none">57</text>
<text transform="translate(550.86,100.30) scale(1.1133,1)" font-family="Liberation Serif" font-size="19.751" font-weight="bold" fill="#1a1a1a" stroke="#1a1a1a" stroke-width="0.6" style="font-kerning:none">1.</text>
<text transform="translate(571.32,100.30) scale(1.1133,1)" font-family="Liberation Serif" font-size="19.751" font-weight="bold" fill="#1a1a1a" stroke="#1a1a1a" stroke-width="0.6" style="font-kerning:none">77</text>
<text transform="translate(599.02,70.80) scale(1.1094,1)" font-family="Liberation Serif" font-size="21.011" font-weight="bold" font-style="italic" fill="#1a1a1a" style="font-kerning:none" stroke="#1a1a1a" stroke-width="0.6" stroke-linejoin="round">nm</text>
<text transform="translate(458.82,100.20) scale(0.9047,1)" font-family="Liberation Serif" font-size="19.854" font-weight="bold" font-style="italic" fill="#1a1a1a" style="font-kerning:none" stroke="#1a1a1a" stroke-width="0.6" stroke-linejoin="round">F</text>
<text transform="translate(470.31,100.20) scale(1.0201,1)" font-family="Liberation Serif" font-size="19.854" font-weight="bold" font-style="italic" fill="#1a1a1a" style="font-kerning:none" stroke="#1a1a1a" stroke-width="0.6" stroke-linejoin="round">W</text>
<text transform="translate(491.32,100.20) scale(0.8203,1)" font-family="Liberation Serif" font-size="19.854" font-weight="bold" font-style="italic" fill="#1a1a1a" style="font-kerning:none" stroke="#1a1a1a" stroke-width="0.6" stroke-linejoin="round">H</text>
<text transform="translate(506.93,100.20) scale(0.8880,1)" font-family="Liberation Serif" font-size="19.854" font-weight="bold" font-style="italic" fill="#1a1a1a" style="font-kerning:none" stroke="#1a1a1a" stroke-width="0.6" stroke-linejoin="round">M</text>
<text transform="translate(599.02,100.30) scale(1.1684,1)" font-family="Liberation Serif" font-size="19.949" font-weight="bold" font-style="italic" fill="#1a1a1a" style="font-kerning:none" stroke="#1a1a1a" stroke-width="0.6" stroke-linejoin="round">nm</text>
<text transform="translate(111.88,371.60) scale(1.2277,1)" font-family="Liberation Serif" font-size="20.798" font-weight="bold" font-style="italic" fill="#1a1a1a" style="font-kerning:none" stroke="#1a1a1a" stroke-width="0.6" stroke-linejoin="round">r</text>
<rect x="113.20" y="358.60" width="8.4" height="1.4" fill="#1a1a1a"/>
<rect x="129.00" y="362.90" width="12.1" height="1.4" fill="#1a1a1a"/>
<rect x="129.00" y="367.25" width="12.1" height="1.4" fill="#1a1a1a"/>
<rect x="129.00" y="392.40" width="12.1" height="1.4" fill="#1a1a1a"/>
<rect x="129.00" y="396.75" width="12.1" height="1.4" fill="#1a1a1a"/>
<text transform="translate(148.66,371.60) scale(1.1133,1)" font-family="Liberation Serif" font-size="19.751" font-weight="bold" fill="#1a1a1a" stroke="#1a1a1a" stroke-width="0.6" style="font-kerning:none">1.</text>
<text transform="translate(169.12,371.60) scale(1.1133,1)" font-family="Liberation Serif" font-size="19.751" font-weight="bold" fill="#1a1a1a" stroke="#1a1a1a" stroke-width="0.6" style="font-kerning:none">12</text>
<text transform="translate(148.66,401.10) scale(1.1133,1)" font-family="Liberation Serif" font-size="19.751" font-weight="bold" fill="#1a1a1a" stroke="#1a1a1a" stroke-width="0.6" style="font-kerning:none">0.</text>
<text transform="translate(169.12,401.10) scale(1.1133,1)" font-family="Liberation Serif" font-size="19.751" font-weight="bold" fill="#1a1a1a" stroke="#1a1a1a" stroke-width="0.6" style="font-kerning:none">40</text>
<text transform="translate(196.82,371.60) scale(1.1094,1)" font-family="Liberation Serif" font-size="21.011" font-weight="bold" font-style="italic" fill="#1a1a1a" style="font-kerning:none" stroke="#1a1a1a" stroke-width="0.6" stroke-linejoin="round">nm</text>
<text transform="translate(56.62,401.00) scale(0.9047,1)" font-family="Liberation Serif" font-size="19.854" font-weight="bold" font-style="italic" fill="#1a1a1a" style="font-kerning:none" stroke="#1a1a1a" stroke-width="0.6" stroke-linejoin="round">F</text>
<text transform="translate(68.11,401.00) scale(1.0201,1)" font-family="Liberation Serif" font-size="19.854" font-weight="bold" font-style="italic" fill="#1a1a1a" style="font-kerning:none" stroke="#1a1a1a" stroke-width="0.6" stroke-linejoin="round">W</text>
<text transform="translate(89.12,401.00) scale(0.8203,1)" font-family="Liberation Serif" font-size="19.854" font-weight="bold" font-style="italic" fill="#1a1a1a" style="font-kerning:none" stroke="#1a1a1a" stroke-width="0.6" stroke-linejoin="round">H</text>
<text transform="translate(104.73,401.00) scale(0.8880,1)" font-family="Liberation Serif" font-size="19.854" font-weight="bold" font-style="italic" fill="#1a1a1a" style="font-kerning:none" stroke="#1a1a1a" stroke-width="0.6" stroke-linejoin="round">M</text>
<text transform="translate(196.82,401.10) scale(1.1684,1)" font-family="Liberation Serif" font-size="19.949" font-weight="bold" font-style="italic" fill="#1a1a1a" style="font-kerning:none" stroke="#1a1a1a" stroke-width="0.6" stroke-linejoin="round">nm</text>
<text transform="translate(316.88,371.60) scale(1.2277,1)" font-family="Liberation Serif" font-size="20.798" font-weight="bold" font-style="italic" fill="#1a1a1a" style="font-kerning:none" stroke="#1a1a1a" stroke-width="0.6" stroke-linejoin="round">r</text>
<rect x="318.20" y="358.60" width="8.4" height="1.4" fill="#1a1a1a"/>
<rect x="334.00" y="362.90" width="12.1" height="1.4" fill="#1a1a1a"/>
<rect x="334.00" y="367.25" width="12.1" height="1.4" fill="#1a1a1a"/>
<rect x="334.00" y="392.40" width="12.1" height="1.4" fill="#1a1a1a"/>
<rect x="334.00" y="396.75" width="12.1" height="1.4" fill="#1a1a1a"/>
<text transform="translate(353.66,371.60) scale(1.1133,1)" font-family="Liberation Serif" font-size="19.751" font-weight="bold" fill="#1a1a1a" stroke="#1a1a1a" stroke-width="0.6" style="font-kerning:none">1.</text>
<text transform="translate(374.12,371.60) scale(1.1133,1)" font-family="Liberation Serif" font-size="19.751" font-weight="bold" fill="#1a1a1a" stroke="#1a1a1a" stroke-width="0.6" style="font-kerning:none">59</text>
<text transform="translate(353.66,401.10) scale(1.1133,1)" font-family="Liberation Serif" font-size="19.751" font-weight="bold" fill="#1a1a1a" stroke="#1a1a1a" stroke-width="0.6" style="font-kerning:none">0.</text>
<text transform="translate(374.12,401.10) scale(1.1133,1)" font-family="Liberation Serif" font-size="19.751" font-weight="bold" fill="#1a1a1a" stroke="#1a1a1a" stroke-width="0.6" style="font-kerning:none">56</text>
<text transform="translate(401.82,371.60) scale(1.1094,1)" font-family="Liberation Serif" font-size="21.011" font-weight="bold" font-style="italic" fill="#1a1a1a" style="font-kerning:none" stroke="#1a1a1a" stroke-width="0.6" stroke-linejoin="round">nm</text>
<text transform="translate(261.62,401.00) scale(0.9047,1)" font-family="Liberation Serif" font-size="19.854" font-weight="bold" font-style="italic" fill="#1a1a1a" style="font-kerning:none" stroke="#1a1a1a" stroke-width="0.6" stroke-linejoin="round">F</text>
<text transform="translate(273.11,401.00) scale(1.0201,1)" font-family="Liberation Serif" font-size="19.854" font-weight="bold" font-style="italic" fill="#1a1a1a" style="font-kerning:none" stroke="#1a1a1a" stroke-width="0.6" stroke-linejoin="round">W</text>
<text transform="translate(294.12,401.00) scale(0.8203,1)" font-family="Liberation Serif" font-size="19.854" font-weight="bold" font-style="italic" fill="#1a1a1a" style="font-kerning:none" stroke="#1a1a1a" stroke-width="0.6" stroke-linejoin="round">H</text>
<text transform="translate(309.73,401.00) scale(0.8880,1)" font-family="Liberation Serif" font-size="19.854" font-weight="bold" font-style="italic" fill="#1a1a1a" style="font-kerning:none" stroke="#1a1a1a" stroke-width="0.6" stroke-linejoin="round">M</text>
<text transform="translate(401.82,401.10) scale(1.1684,1)" font-family="Liberation Serif" font-size="19.949" font-weight="bold" font-style="italic" fill="#1a1a1a" style="font-kerning:none" stroke="#1a1a1a" stroke-width="0.6" stroke-linejoin="round">nm</text>
<text transform="translate(28.62,659.5) scale(1.0030,1)" font-family="Liberation Sans" font-size="17.186" font-weight="bold" fill="#1a1a1a" style="font-kerning:none">0.5</text>
<text transform="translate(72.42,659.5) scale(1.0030,1)" font-family="Liberation Sans" font-size="17.186" font-weight="bold" fill="#1a1a1a" style="font-kerning:none">1.0</text>
<text transform="translate(116.22,659.5) scale(1.0030,1)" font-family="Liberation Sans" font-size="17.186" font-weight="bold" fill="#1a1a1a" style="font-kerning:none">1.5</text>
<text transform="translate(160.02,659.5) scale(1.0030,1)" font-family="Liberation Sans" font-size="17.186" font-weight="bold" fill="#1a1a1a" style="font-kerning:none">2.0</text>
<text transform="translate(203.82,659.5) scale(1.0030,1)" font-family="Liberation Sans" font-size="17.186" font-weight="bold" fill="#1a1a1a" style="font-kerning:none">2.5</text>
<text transform="translate(263.62,659.5) scale(1.0030,1)" font-family="Liberation Sans" font-size="17.186" font-weight="bold" fill="#1a1a1a" style="font-kerning:none">1.0</text>
<text transform="translate(328.22,659.5) scale(1.0030,1)" font-family="Liberation Sans" font-size="17.186" font-weight="bold" fill="#1a1a1a" style="font-kerning:none">1.8</text>
<text transform="translate(392.82,659.5) scale(1.0030,1)" font-family="Liberation Sans" font-size="17.186" font-weight="bold" fill="#1a1a1a" style="font-kerning:none">2.6</text>
<text transform="translate(461.11,659.5) scale(1.0030,1)" font-family="Liberation Sans" font-size="17.186" font-weight="bold" fill="#1a1a1a" style="font-kerning:none">1</text>
<text transform="translate(502.41,659.5) scale(1.0030,1)" font-family="Liberation Sans" font-size="17.186" font-weight="bold" fill="#1a1a1a" style="font-kerning:none">2</text>
<text transform="translate(543.71,659.5) scale(1.0030,1)" font-family="Liberation Sans" font-size="17.186" font-weight="bold" fill="#1a1a1a" style="font-kerning:none">3</text>
<text transform="translate(585.01,659.5) scale(1.0030,1)" font-family="Liberation Sans" font-size="17.186" font-weight="bold" fill="#1a1a1a" style="font-kerning:none">4</text>
<text transform="translate(626.31,659.5) scale(1.0030,1)" font-family="Liberation Sans" font-size="17.186" font-weight="bold" fill="#1a1a1a" style="font-kerning:none">5</text>
<text transform="translate(281.43,688.50) scale(1.0520,1)" font-family="Liberation Sans" font-size="23.692" font-weight="bold" font-style="normal" fill="#1a1a1a" style="font-kerning:none">Radius (nm)</text>
<text transform="translate(21.90,429.70) rotate(-90) scale(1.0097,1)" font-family="Liberation Sans" font-size="25.146" font-weight="bold" font-style="normal" fill="#1a1a1a" style="font-kerning:none">Frequency (a. u.)</text>
<text transform="translate(662.10,133.02) rotate(90) scale(0.9825,1)" font-family="Liberation Sans" font-size="25.436" font-weight="bold" font-style="normal" fill="#1a1a1a" style="font-kerning:none">TEM</text>
<text transform="translate(662.10,439.48) rotate(90) scale(0.8583,1)" font-family="Liberation Sans" font-size="26.018" font-weight="bold" font-style="normal" fill="#1a1a1a" style="font-kerning:none">GISAXS</text>
</svg>
</body></html>
